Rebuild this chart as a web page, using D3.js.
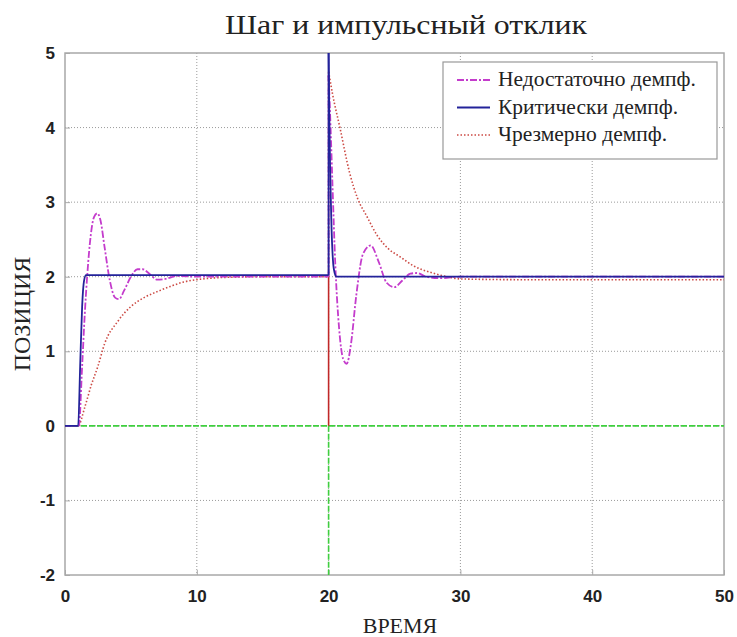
<!DOCTYPE html>
<html>
<head>
<meta charset="utf-8">
<script src="https://cdn.jsdelivr.net/npm/d3@7"></script>
<style>
  body { margin: 0; background: #fff; }
</style>
</head>
<body>
<div class="responseChart"></div>
<script>
// step response for t = 0..20, impulse response for t = 20..50
var underStepT = [0, 1.05, 1.3, 1.5, 1.7, 1.95, 2.2, 2.45, 2.7, 3.0, 3.4, 3.8, 4.1, 4.5, 5.0, 5.5, 5.9, 6.4, 7.0, 7.6, 8.5, 10, 20];
var underStepV = [0, 0, 0.8, 1.5, 2.05, 2.55, 2.8, 2.85, 2.75, 2.4, 1.95, 1.72, 1.7, 1.82, 2.0, 2.1, 2.1, 2.04, 1.96, 1.97, 2.01, 2.0, 2.0];
var underImpT = [20, 20.15, 20.3, 20.5, 20.8, 21.1, 21.37, 21.7, 22.1, 22.6, 23.2, 23.8, 24.4, 25.0, 25.6, 26.2, 26.7, 27.4, 28.5, 30, 50];
var underImpV = [4.7, 4.0, 3.2, 2.2, 1.3, 0.9, 0.83, 1.1, 1.75, 2.3, 2.42, 2.2, 1.92, 1.86, 1.95, 2.04, 2.05, 2.0, 1.98, 2.0, 2.0];

var critStepT = [0, 1.0, 1.15, 1.3, 1.45, 1.6, 2, 20];
var critStepV = [0, 0, 0.8, 1.6, 1.95, 2.02, 2.02, 2.02];
var critImpT = [20, 20.05, 20.2, 20.4, 20.6, 21, 50];
var critImpV = [5.0, 4.2, 2.8, 2.1, 2.0, 2.0, 2.0];

var overStepT = [0, 1, 1.5, 2, 2.5, 3, 4, 5, 6, 7, 8, 9, 10, 12, 15, 20];
var overStepV = [0, 0, 0.25, 0.55, 0.8, 1.1, 1.4, 1.6, 1.72, 1.8, 1.87, 1.93, 1.96, 1.99, 2.0, 2.0];
var overImpT = [20, 20.3, 20.87, 21.6, 22.2, 22.9, 23.7, 24.5, 25.4, 26.5, 27.9, 29, 30, 35, 50];
var overImpV = [4.75, 4.45, 3.99, 3.39, 3.05, 2.81, 2.55, 2.38, 2.27, 2.14, 2.05, 2.0, 1.97, 1.96, 1.96];

// input signals (not in legend)
var inputT = [0, 50];
var inputV = [0, 0];
var inputDropT = [20, 20];
var inputDropV = [0, -2];
var pulseT = [20, 20];
var pulseV = [0, 2];

var xTicks = [0, 10, 20, 30, 40, 50];
var yTicks = [-2, -1, 0, 1, 2, 3, 4, 5];
var legendLabels = ["Недостаточно демпф.", "Критически демпф.", "Чрезмерно демпф."];

var title = "Шаг и импульсный отклик";
var xLabel = "ВРЕМЯ";
var yLabel = "ПОЗИЦИЯ";

var margin = {top: 53, right: 13, bottom: 62, left: 65},
    width = 737 - margin.left - margin.right,
    height = 637 - margin.top - margin.bottom;

var svg = d3.select(".responseChart")
    .append("svg")
    .attr("width", 737)
    .attr("height", 637)
    .style("display", "block");

var g = svg.append("g")
    .attr("transform", "translate(" + margin.left + "," + margin.top + ")");

var x = d3.scaleLinear().domain([0, 50]).range([0, width]);
var y = d3.scaleLinear().domain([-2, 5]).range([height, 0]);

// grid
g.append("g")
    .selectAll("line")
    .data(xTicks.slice(1, -1))
    .enter().append("line")
    .attr("x1", d => x(d)).attr("x2", d => x(d))
    .attr("y1", 0).attr("y2", height)
    .attr("stroke", "#9a9a9a")
    .attr("stroke-width", 1)
    .attr("stroke-dasharray", "1,2");
g.append("g")
    .selectAll("line")
    .data(yTicks.slice(1, -1))
    .enter().append("line")
    .attr("x1", 0).attr("x2", width)
    .attr("y1", d => y(d)).attr("y2", d => y(d))
    .attr("stroke", "#9a9a9a")
    .attr("stroke-width", 1)
    .attr("stroke-dasharray", "1,2");

// axes
var fmt = d => String(d);
var xAxis = g.append("g")
    .attr("transform", "translate(0," + height + ")")
    .call(d3.axisBottom(x).tickValues(xTicks).tickFormat(fmt).tickSize(-5).tickPadding(15));
var yAxis = g.append("g")
    .call(d3.axisLeft(y).tickValues(yTicks).tickFormat(fmt).tickSize(-5).tickPadding(10));
[xAxis, yAxis].forEach(a => {
  a.select(".domain").remove();
  a.selectAll("line").attr("stroke", "#aaa");
  a.selectAll("text")
    .attr("font-family", "'Liberation Sans', Arial, sans-serif")
    .attr("font-weight", "bold")
    .attr("font-size", 17)
    .attr("fill", "#222");
});

// frame
g.append("rect")
    .attr("width", width).attr("height", height)
    .attr("fill", "none")
    .attr("stroke", "#a8a8a8")
    .attr("stroke-width", 1.5);

var line = d3.line()
    .x(d => x(d[0]))
    .y(d => y(d[1]))
    .curve(d3.curveMonotoneX);
var straight = d3.line()
    .x(d => x(d[0]))
    .y(d => y(d[1]));

function pts(ts, vs) { return ts.map((t, i) => [t, vs[i]]); }

var styles = [
  {color: "#c43ccc", dash: "7,2,2,2", w: 1.8},
  {color: "#23239a", dash: null, w: 1.8},
  {color: "#cc4a44", dash: "1.5,2", w: 1.6}
];

[pts(inputT, inputV), pts(inputDropT, inputDropV)].forEach(p => {
  g.append("path")
    .attr("d", straight(p))
    .attr("fill", "none")
    .attr("stroke", "#3fcf3f")
    .attr("stroke-width", 1.6)
    .attr("stroke-dasharray", "6,2");
});
g.append("path")
    .attr("d", straight(pts(pulseT, pulseV)))
    .attr("fill", "none")
    .attr("stroke", "#c02828")
    .attr("stroke-width", 1.6);

var series = [
  [pts(overStepT, overStepV), pts(overImpT, overImpV), styles[2]],
  [pts(underStepT, underStepV), pts(underImpT, underImpV), styles[0]],
  [pts(critStepT, critStepV), pts(critImpT, critImpV), styles[1]]
];

series.forEach(s => {
  [s[0], s[1]].forEach(p => {
    g.append("path")
      .attr("d", line(p))
      .attr("fill", "none")
      .attr("stroke", s[2].color)
      .attr("stroke-width", s[2].w)
      .attr("stroke-dasharray", s[2].dash);
  });
  // jump at t = 20 from the settled step value to the impulse peak
  var a = s[0][s[0].length - 1], b = s[1][0];
  g.append("path")
    .attr("d", straight([a, b]))
    .attr("fill", "none")
    .attr("stroke", s[2].color)
    .attr("stroke-width", s[2].w)
    .attr("stroke-dasharray", s[2].dash);
});

// legend
var lg = svg.append("g").attr("transform", "translate(443,62)");
lg.append("rect")
    .attr("width", 274).attr("height", 97)
    .attr("fill", "#fff")
    .attr("stroke", "#999")
    .attr("stroke-width", 1.2);
legendLabels.forEach((l, i) => {
  var yy = 18 + i * 27.5;
  lg.append("line")
    .attr("x1", 14).attr("x2", 47)
    .attr("y1", yy).attr("y2", yy)
    .attr("stroke", styles[i].color)
    .attr("stroke-width", styles[i].w)
    .attr("stroke-dasharray", styles[i].dash);
  lg.append("text")
    .attr("x", 55).attr("y", yy + 6)
    .attr("font-family", "'Liberation Serif', 'Times New Roman', serif")
    .attr("font-size", 21.5)
    .attr("fill", "#222")
    .text(l);
});

// titles
svg.append("text")
    .attr("x", 406).attr("y", 34)
    .attr("text-anchor", "middle")
    .attr("font-family", "'Liberation Serif', 'Times New Roman', serif")
    .attr("font-size", 28)
    .attr("textLength", 362)
    .attr("lengthAdjust", "spacingAndGlyphs")
    .attr("fill", "#222")
    .text(title);
svg.append("text")
    .attr("x", 400).attr("y", 633)
    .attr("text-anchor", "middle")
    .attr("font-family", "'Liberation Serif', 'Times New Roman', serif")
    .attr("font-size", 22)
    .attr("fill", "#222")
    .text(xLabel);
svg.append("text")
    .attr("transform", "translate(30,314) rotate(-90)")
    .attr("text-anchor", "middle")
    .attr("font-family", "'Liberation Serif', 'Times New Roman', serif")
    .attr("font-size", 24)
    .attr("fill", "#222")
    .text(yLabel);
</script>
</body>
</html>
